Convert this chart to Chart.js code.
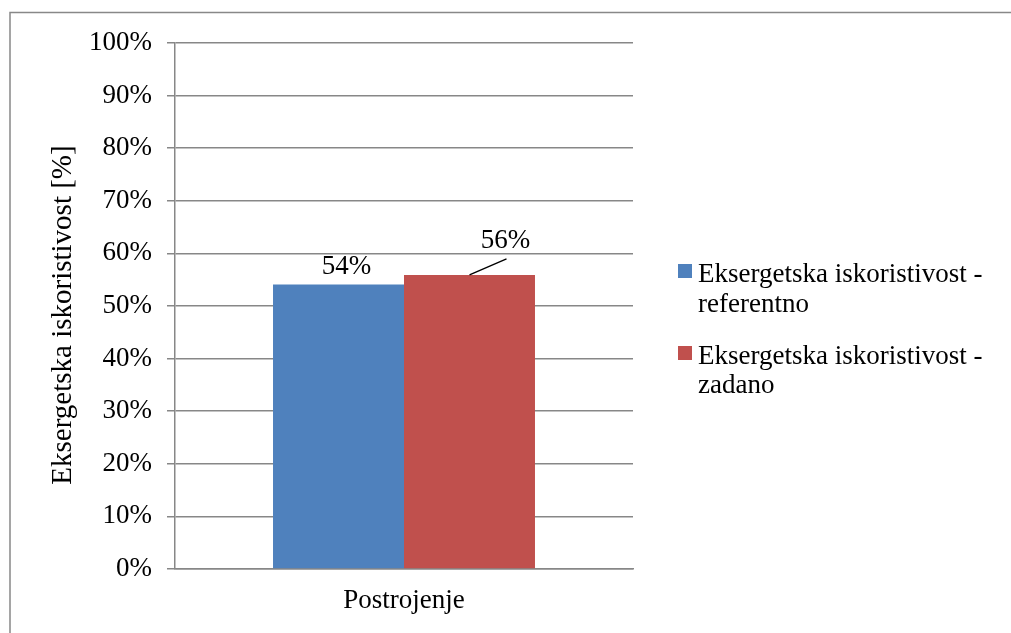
<!DOCTYPE html>
<html>
<head>
<meta charset="utf-8">
<script src="https://cdn.jsdelivr.net/npm/chart.js@4/dist/chart.umd.min.js"></script>
<style>
  html, body { margin: 0; padding: 0; background: #fff; }
  #wrap { width: 1011px; height: 633px; }
</style>
</head>
<body>
<div id="wrap"><canvas id="chart" width="1011" height="633"></canvas></div>
<script>
const categories = ["Postrojenje"];
const seriesNames = ["Eksergetska iskoristivost - referentno", "Eksergetska iskoristivost - zadano"];
const legendLines = [["Eksergetska iskoristivost -", "referentno"], ["Eksergetska iskoristivost -", "zadano"]];
const yTitle = "Eksergetska iskoristivost [%]";
const referentno = [54.1];
const zadano = [55.9];
const yTicks = [0, 10, 20, 30, 40, 50, 60, 70, 80, 90, 100];
const colors = ["#4F81BD", "#C0504D"];

const FONT = "'Liberation Serif', 'Times New Roman', serif";
const GRID = "#878787";

// frame round the whole picture
const framePlugin = {
  id: "frame",
  beforeDraw(chart) {
    const ctx = chart.ctx;
    ctx.save();
    ctx.fillStyle = "#fff";
    ctx.fillRect(0, 0, chart.width, chart.height);
    ctx.strokeStyle = "#888";
    ctx.lineWidth = 1.5;
    ctx.strokeRect(10, 12.5, 1100, 700);
    ctx.restore();
  }
};

// rotated y title, placed by hand (Chart.js puts it too far left)
const yTitlePlugin = {
  id: "yTitle",
  afterDraw(chart) {
    const ctx = chart.ctx;
    ctx.save();
    ctx.translate(71, 315);
    ctx.rotate(-Math.PI / 2);
    ctx.font = "29px " + FONT;
    ctx.fillStyle = "#000";
    ctx.textAlign = "center";
    ctx.textBaseline = "alphabetic";
    ctx.fillText(yTitle, 0, 0);
    ctx.restore();
  }
};

// value labels above bars, second one with a leader line
const labelPlugin = {
  id: "valueLabels",
  afterDatasetsDraw(chart) {
    const ctx = chart.ctx;
    ctx.save();
    ctx.font = "27px " + FONT;
    ctx.fillStyle = "#000";
    ctx.textAlign = "center";
    ctx.textBaseline = "alphabetic";
    chart.data.datasets.forEach((ds, i) => {
      chart.getDatasetMeta(i).data.forEach((bar, j) => {
        const txt = Math.round(ds.data[j]) + "%";
        if (i === 0) {
          ctx.fillText(txt, bar.x + 8, bar.y - 10);
        } else {
          ctx.fillText(txt, bar.x + 36, bar.y - 27);
          ctx.strokeStyle = "#000";
          ctx.lineWidth = 1.3;
          ctx.beginPath();
          ctx.moveTo(bar.x, bar.y);
          ctx.lineTo(bar.x + 37, bar.y - 16);
          ctx.stroke();
        }
      });
    });
    ctx.restore();
  }
};

// legend on the right, labels wrapped on two lines
const legendPlugin = {
  id: "sideLegend",
  afterDraw(chart) {
    const ctx = chart.ctx;
    const boxX = 678, textX = 698;
    const boxY = [264, 346];
    const baselines = [[282, 312], [364, 393]];
    ctx.save();
    ctx.font = "27px " + FONT;
    ctx.textAlign = "left";
    ctx.textBaseline = "alphabetic";
    chart.data.datasets.forEach((ds, i) => {
      ctx.fillStyle = ds.backgroundColor;
      ctx.fillRect(boxX, boxY[i], 14, 14);
      ctx.fillStyle = "#000";
      legendLines[i].forEach((line, k) => ctx.fillText(line, textX, baselines[i][k]));
    });
    ctx.restore();
  }
};

new Chart(document.getElementById("chart"), {
  type: "bar",
  data: {
    labels: categories,
    datasets: [
      { label: seriesNames[0], data: referentno, backgroundColor: colors[0] },
      { label: seriesNames[1], data: zadano, backgroundColor: colors[1] }
    ]
  },
  options: {
    responsive: false,
    animation: false,
    layout: { padding: { left: 25, top: 43, right: 378, bottom: 0 } },
    datasets: { bar: { categoryPercentage: 0.572, barPercentage: 1 } },
    plugins: {
      legend: { display: false },
      tooltip: { enabled: false }
    },
    scales: {
      x: {
        grid: { display: false },
        border: { display: true, color: GRID, width: 1.5 },
        ticks: { color: "#000", font: { family: FONT, size: 27 }, padding: 8 },
        afterFit(scale) { scale.height = 64; }
      },
      y: {
        min: 0,
        max: 100,
        afterBuildTicks(scale) { scale.ticks = yTicks.map(v => ({ value: v })); },
        ticks: {
          color: "#000",
          font: { family: FONT, size: 27 },
          padding: 15,
          callback: v => v + "%"
        },
        grid: { color: GRID, lineWidth: 1.5, tickLength: 8, tickColor: GRID },
        border: { display: true, color: GRID, width: 1.5 },
        afterFit(scale) { scale.width = 150; }
      }
    }
  },
  plugins: [framePlugin, yTitlePlugin, labelPlugin, legendPlugin]
});
</script>
</body>
</html>
